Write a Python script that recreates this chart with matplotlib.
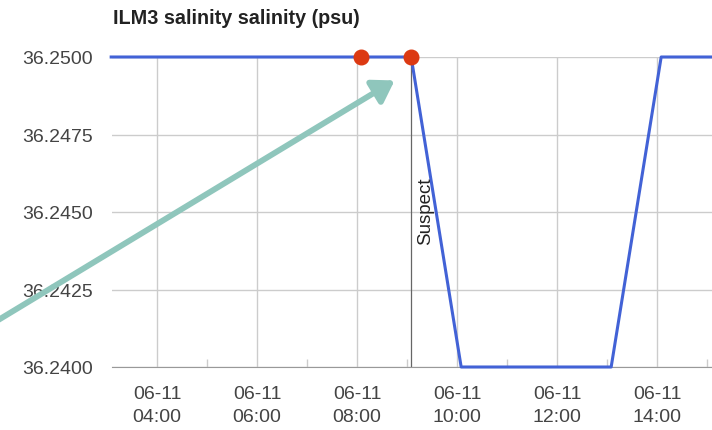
import matplotlib
matplotlib.use("Agg")
import matplotlib.pyplot as plt
import matplotlib.dates as mdates
from datetime import datetime

# hourly salinity readings on 06-11 (psu)
times = ["03:05", "04:05", "05:05", "06:05", "07:05", "08:05", "09:05",
         "10:05", "11:05", "12:05", "13:05", "14:05", "15:05"]
salinity = [36.25, 36.25, 36.25, 36.25, 36.25, 36.25, 36.25,
            36.24, 36.24, 36.24, 36.24, 36.25, 36.25]
flagged = ["08:05", "09:05"]
suspect_time = "09:05"
yticks = [36.2400, 36.2425, 36.2450, 36.2475, 36.2500]


def t(s):
    h, m = s.split(":")
    return datetime(2019, 6, 11, int(h), int(m))


x = [t(s) for s in times]
fx = [t(s) for s in flagged]
fy = [salinity[times.index(s)] for s in flagged]

fig = plt.figure(figsize=(7.12, 4.31), dpi=100)
ax = fig.add_axes([112 / 712, 63 / 431, 600 / 712, 310 / 431])

ax.plot(x, salinity, color="#4262d6", lw=2.2, zorder=3, clip_on=False)
ax.plot(fx, fy, "o", color="#dc3912", ms=10.5, zorder=4, clip_on=False)

# annotation line
ax.axvline(t(suspect_time), color="#666666", lw=0.9, zorder=2)
ax.text(t(suspect_time) + (t("09:22") - t("09:05")), 36.24505, "Suspect",
        rotation=90, ha="center", va="center", fontsize=13.5, color="#222222",
        family="Liberation Sans", zorder=5)

ax.set_xlim(datetime(2019, 6, 11, 3, 6), datetime(2019, 6, 11, 15, 6))
ax.set_ylim(36.24, 36.25)
ax.set_yticks(yticks)
ax.set_yticklabels(["%.4f" % v for v in yticks])
ax.xaxis.set_major_locator(mdates.HourLocator(byhour=range(0, 24, 2)))
ax.xaxis.set_minor_locator(mdates.HourLocator(byhour=range(1, 24, 2)))
ax.xaxis.set_major_formatter(mdates.DateFormatter("%m-%d\n%H:%M"))

ax.grid(True, which="major", color="#cccccc", lw=1)
ax.set_axisbelow(True)
for s in ["top", "right", "left"]:
    ax.spines[s].set_visible(False)
ax.spines["bottom"].set_color("#999999")
ax.tick_params(axis="both", which="major", length=0, labelsize=14,
               labelcolor="#444444", pad=13)
ax.tick_params(axis="y", pad=14)
ax.tick_params(axis="x", which="minor", direction="in", length=6,
               color="#cccccc", width=1)
for lab in ax.get_xticklabels() + ax.get_yticklabels():
    lab.set_family("Liberation Sans")
    lab.set_linespacing(1.45)

fig.text(113 / 712, 1 - 18 / 431, "ILM3 salinity salinity (psu)",
         fontsize=14.2, fontweight="bold", color="#222222",
         family="Liberation Sans", va="center", ha="left")

# teal arrow pointing at the flagged reading
fig.add_artist(matplotlib.patches.FancyArrowPatch(
    (-5 / 712, 1 - 323 / 431), (397 / 712, 1 - 80 / 431),
    transform=fig.transFigure, arrowstyle="-|>,head_length=7,head_width=4.5",
    color="#8fc6bc", lw=4.2, mutation_scale=1.8, zorder=6))

fig.savefig("out.png", dpi=100)
